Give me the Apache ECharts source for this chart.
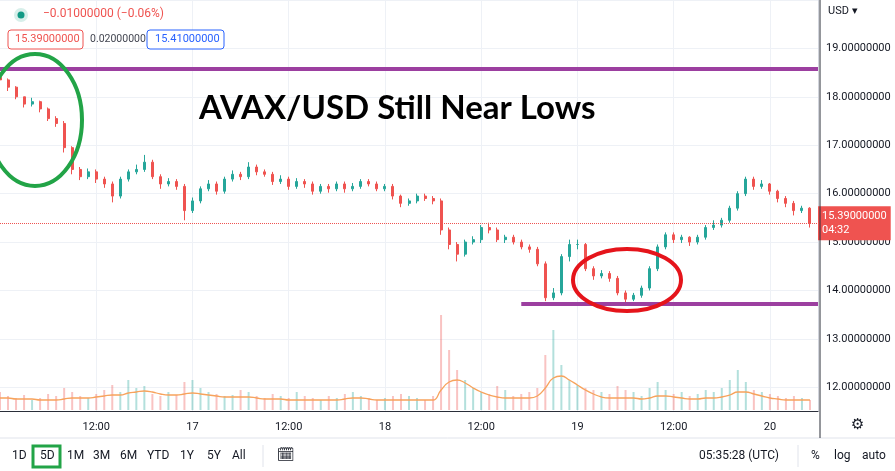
<!DOCTYPE html>
<html><head><meta charset="utf-8">
<script src="https://cdn.jsdelivr.net/npm/echarts@6/dist/echarts.min.js"></script>
<style>html,body{margin:0;padding:0;background:#fff}#c{width:895px;height:471px}</style>
</head><body><div id="c"></div>
<script>
const firstOpen = 18.4;
const closes = [18.35,18.2,18.0,17.85,17.9,17.75,17.55,17.45,16.95,16.5,16.35,16.45,16.3,16.2,15.95,16.3,16.45,16.5,16.65,16.35,16.2,16.25,16.15,15.65,15.85,16.1,16.2,16.05,16.3,16.4,16.35,16.55,16.45,16.4,16.25,16.3,16.15,16.25,16.2,16.05,16.15,16.1,16.2,16.1,16.15,16.25,16.2,16.1,16.15,15.95,15.8,15.85,15.95,15.9,15.85,
15.25,14.95,14.75,15.0,15.05,15.3,15.25,15.05,15.1,15.0,14.9,14.85,14.55,13.85,13.95,14.7,14.95,14.95,14.45,14.3,14.35,14.25,13.95,13.82,13.9,14.05,14.45,14.9,15.15,15.05,15.1,15.0,15.1,15.3,15.35,15.45,15.7,16.0,16.3,16.15,16.2,16.05,15.9,15.8,15.65,15.7,15.39];
const highs = [18.45,18.38,18.22,18.0,17.98,17.92,17.78,17.6,17.5,16.98,16.55,16.52,16.5,16.35,16.25,16.35,16.5,16.6,16.8,16.7,16.4,16.32,16.3,16.2,15.92,16.15,16.28,16.25,16.35,16.48,16.45,16.65,16.6,16.5,16.45,16.38,16.35,16.32,16.3,16.25,16.2,16.2,16.25,16.25,16.22,16.3,16.3,16.25,16.2,16.2,15.98,15.9,16.0,16.0,15.95,
15.9,15.3,15.0,15.05,15.12,15.35,15.4,15.3,15.15,15.15,15.05,14.95,14.9,14.6,14.05,14.75,15.05,15.05,14.98,14.5,14.42,14.4,14.3,14.0,13.95,14.1,14.5,14.95,15.2,15.2,15.15,15.12,15.15,15.35,15.45,15.5,15.75,16.05,16.35,16.35,16.28,16.22,16.08,15.95,15.85,15.75,15.72];
const lows = [18.25,18.12,17.95,17.78,17.8,17.68,17.5,17.38,16.85,16.4,16.28,16.3,16.22,16.12,15.82,15.9,16.25,16.4,16.45,16.3,16.1,16.15,16.08,15.45,15.6,15.8,16.05,15.98,16.0,16.25,16.28,16.3,16.38,16.35,16.18,16.2,16.08,16.1,16.12,15.98,16.0,16.02,16.05,16.02,16.05,16.1,16.15,16.05,16.05,15.88,15.72,15.75,15.8,15.85,15.78,
15.15,14.85,14.6,14.7,14.95,14.98,15.18,15.0,14.98,14.95,14.85,14.78,14.5,13.78,13.8,13.9,14.6,14.85,14.4,14.22,14.25,14.18,13.9,13.75,13.78,13.85,14.0,14.4,14.85,14.98,14.98,14.92,14.95,15.05,15.25,15.3,15.4,15.65,15.95,16.08,16.1,15.98,15.82,15.72,15.55,15.6,15.3];
const volumes = [18,14,12,15,10,12,16,14,22,18, 14,12,16,20,25,18,30,22,24,16, 14,18,15,28,30,22,18,16,14,15, 20,18,14,12,16,14,12,18,14,12, 10,14,12,16,18,14,12,10,12,14, 16,14,12,10,14,95,60,40,30,22, 18,16,24,20,14,16,18,22,55,80, 45,30,25,22,20,18,16,24,20,18, 14,22,28,20,16,18,14,16,20,18, 22,30,40,28,20,18,16,14,12,14, 12,10];
const volMA = [12,12,11,11,11,10,10,10,11,12, 12,12,13,14,15,15,17,18,19,18, 16,15,15,16,17,16,15,14,13,13, 13,13,12,11,11,11,10,10,10,10, 10,10,10,11,12,12,11,10,10,10, 10,10,10,10,10,20,28,30,27,22, 18,15,13,12,12,12,12,14,22,32, 34,30,25,20,16,13,12,12,12,12, 11,12,14,14,13,12,11,11,12,12, 13,15,18,18,16,14,12,11,10,10, 10,10];
const timeTickLabels = {12:'12:00',24:'17',36:'12:00',48:'18',60:'12:00',72:'19',84:'12:00',96:'20'};
const resistance = 18.59, support = 13.73, supportStart = 65, lastPrice = 15.39;

const UP='#26a69a', DN='#ef5350';
const cats=[]; for(let i=0;i<=102;i++) cats.push(String(i));
const candles = closes.map((c,i)=>{const o=i===0?firstOpen:closes[i-1]; return [o,c,lows[i],highs[i]];});
const volData = volumes.map((v,i)=>({value:v,itemStyle:{color:candles[i][1]>=candles[i][0]?'rgba(38,166,154,0.35)':'rgba(239,83,80,0.35)'}}));

const chart = echarts.init(document.getElementById('c'));
chart.setOption({
  animation:false,
  grid:[{left:-2,right:77,top:-5,height:416.5},{left:-2,right:77,top:300,height:110}],
  xAxis:[
    {type:'category',data:cats,gridIndex:0,boundaryGap:false,
     axisLine:{show:true,lineStyle:{color:'#2a2e39',width:1}},axisTick:{show:false},
     axisLabel:{interval:i=>timeTickLabels[i]!==undefined,formatter:(v,i)=>timeTickLabels[i]||'',color:'#131722',fontSize:11,margin:10,fontFamily:'Roboto'},
     splitLine:{show:true,interval:i=>timeTickLabels[i]!==undefined,lineStyle:{color:'#eef1f6'}}},
    {type:'category',data:cats,gridIndex:1,boundaryGap:false,show:false}
  ],
  yAxis:[
    {type:'value',gridIndex:0,position:'right',min:11.5,max:20,minInterval:1,maxInterval:1,
     axisLine:{show:true,lineStyle:{color:'#d1d4dc'}},axisTick:{show:false},
     axisLabel:{color:'#131722',fontSize:11,margin:8,fontFamily:'Roboto',showMinLabel:false,showMaxLabel:false,formatter:v=>Number.isInteger(v)?v.toFixed(8):''},
     splitLine:{lineStyle:{color:'#eef1f6'}}},
    {type:'value',gridIndex:1,min:0,max:110,show:false}
  ],
  series:[
    {type:'bar',xAxisIndex:1,yAxisIndex:1,data:volData,barWidth:2},
    {type:'line',xAxisIndex:1,yAxisIndex:1,data:volMA,symbol:'none',smooth:true,lineStyle:{color:'#f7a35c',width:1.3}},
    {type:'candlestick',data:candles,barMaxWidth:2.5,
     itemStyle:{color:UP,color0:DN,borderColor:UP,borderColor0:DN,borderWidth:1},
     markLine:{symbol:'none',silent:true,
       data:[
         {yAxis:resistance,lineStyle:{color:'#9c3fa0',width:4,type:'solid'},label:{show:false}},
         [{coord:[String(supportStart),support]},{coord:['102',support],lineStyle:{color:'#9c3fa0',width:4,type:'solid'},label:{show:false}}],
         {yAxis:lastPrice,lineStyle:{color:'#ef5350',width:1,type:'dotted'},
          label:{show:true,position:'end',distance:0,formatter:'15.39000000\n04:32',backgroundColor:'#ef5350',color:'#fff',fontSize:11,padding:[3,4],lineHeight:14,fontFamily:'Roboto'}}
       ]}}
  ],
  graphic:[
    {type:'line',z:100,shape:{x1:0,y1:438,x2:895,y2:438},style:{stroke:'#e0e3eb',lineWidth:1}},
    {type:'line',z:100,shape:{x1:820,y1:0,x2:820,y2:438},style:{stroke:'#2a2e39',lineWidth:1}},
    {type:'text',z:100,left:199,top:92,style:{text:'AVAX/USD Still Near Lows',font:'bold 33px Lato',fill:'#000'}},
    {type:'ellipse',z:100,shape:{cx:35,cy:120,rx:47,ry:66},style:{fill:'none',stroke:'#22a447',lineWidth:4}},
    {type:'ellipse',z:100,shape:{cx:627,cy:280,rx:54,ry:31},style:{fill:'none',stroke:'#e5141b',lineWidth:4}},
    {type:'circle',z:100,shape:{cx:21,cy:15,r:7},style:{fill:'#d7efea'}},
    {type:'circle',z:100,shape:{cx:21,cy:15,r:3.5},style:{fill:'#119a85'}},
    {type:'text',z:100,left:43,top:8,style:{text:'\u22120.01000000 (\u22120.06%)',font:'12px Roboto',fill:'#ef5350'}},
    {type:'rect',z:100,shape:{x:8,y:30,width:75,height:19,r:3},style:{fill:'#fff',stroke:'#ef5350',lineWidth:1}},
    {type:'text',z:101,left:15,top:34,style:{text:'15.39000000',font:'11px Roboto',fill:'#ef5350'}},
    {type:'text',z:100,left:90,top:34,style:{text:'0.02000000',font:'10.5px Roboto',fill:'#434651'}},
    {type:'rect',z:100,shape:{x:147,y:30,width:77,height:19,r:3},style:{fill:'#fff',stroke:'#2962ff',lineWidth:1}},
    {type:'text',z:101,left:155,top:34,style:{text:'15.41000000',font:'11px Roboto',fill:'#2962ff'}},
    {type:'text',z:100,left:828,top:6,style:{text:'USD \u25BE',font:'11px Roboto',fill:'#131722'}},
    {type:'text',z:100,left:851,top:418,style:{text:'\u2699',font:'15px DejaVu Sans',fill:'#131722'}},
    {type:'rect',z:100,shape:{x:33,y:446,width:27,height:21},style:{fill:'none',stroke:'#22a447',lineWidth:3}},
    ...[['1D',12],['5D',40],['1M',67],['3M',93],['6M',120],['YTD',147],['1Y',180],['5Y',207],['All',232]].map(([t,x])=>({type:'text',z:100,left:x,top:450,style:{text:t,font:'12px Roboto',fill:'#131722'}})),
    {type:'line',z:100,shape:{x1:263,y1:445,x2:263,y2:467},style:{stroke:'#e0e3eb'}},
    {type:'text',z:100,left:277,top:448,style:{text:'\u{1F5D3}',font:'14px DejaVu Sans',fill:'#131722'}},
    {type:'text',z:100,left:699,top:450,style:{text:'05:35:28 (UTC)',font:'12px Roboto',fill:'#131722'}},
    {type:'line',z:100,shape:{x1:798,y1:445,x2:798,y2:467},style:{stroke:'#e0e3eb'}},
    {type:'text',z:100,left:811,top:450,style:{text:'%',font:'12px Roboto',fill:'#131722'}},
    {type:'text',z:100,left:834,top:450,style:{text:'log',font:'12px Roboto',fill:'#131722'}},
    {type:'text',z:100,left:862,top:450,style:{text:'auto',font:'12px Roboto',fill:'#131722'}}
  ]
});
</script></body></html>
